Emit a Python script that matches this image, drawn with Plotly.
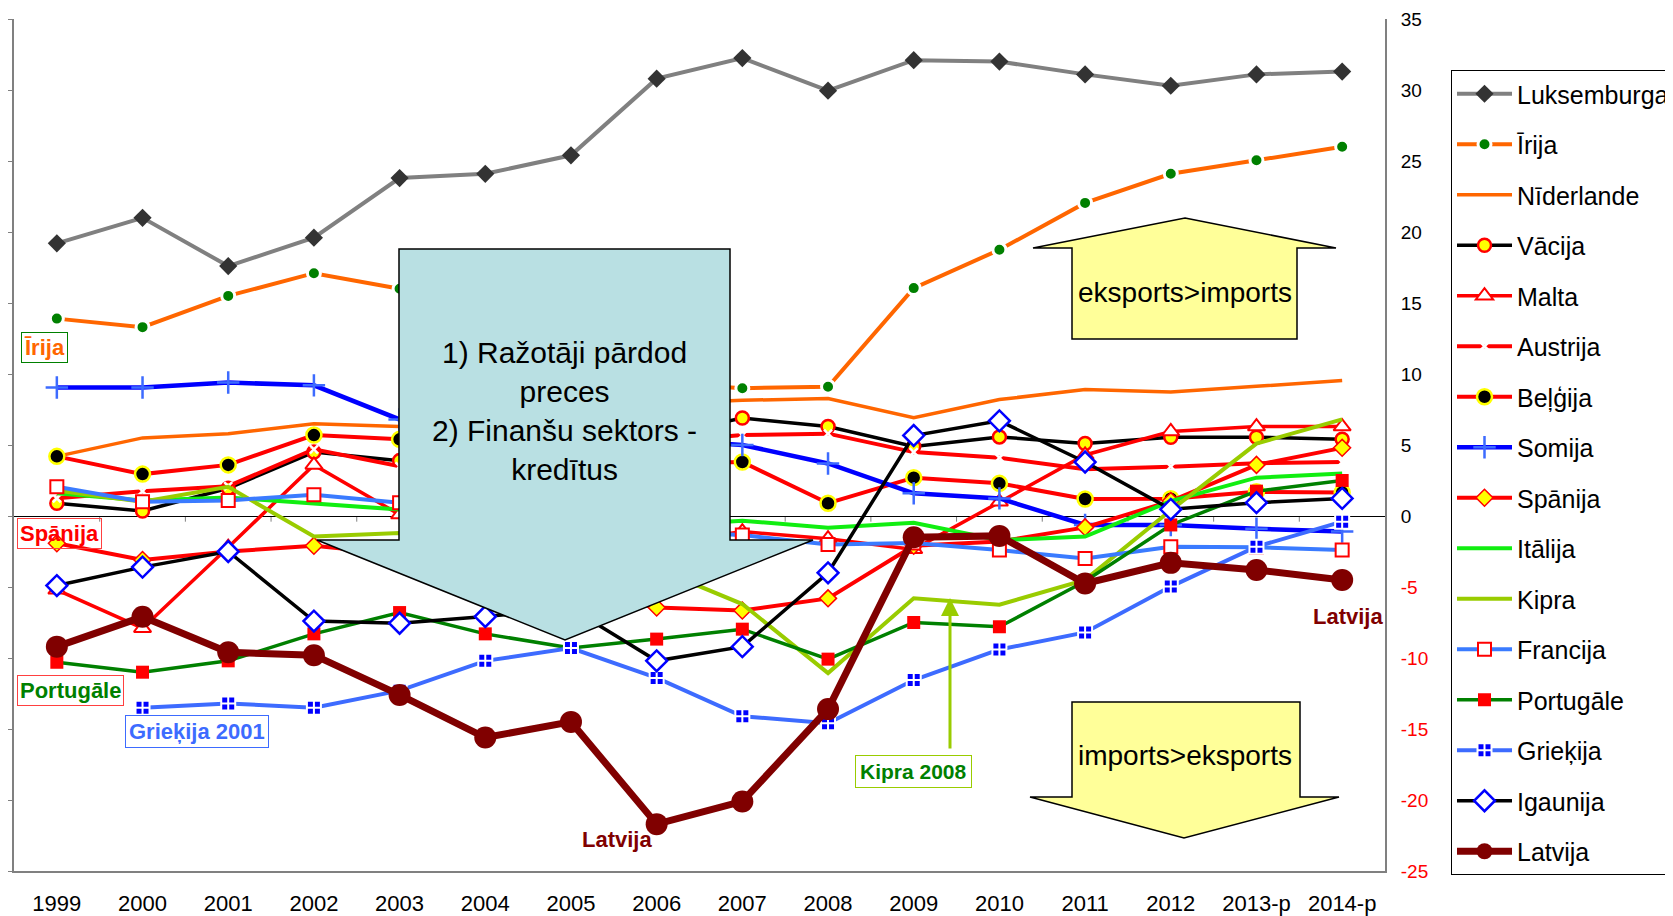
import plotly.graph_objects as go

years = ['1999', '2000', '2001', '2002', '2003', '2004', '2005', '2006', '2007',
         '2008', '2009', '2010', '2011', '2012', '2013-p', '2014-p']

luksemburga = [19.2, 21.0, 17.6, 19.6, 23.8, 24.1, 25.4, 30.8, 32.25, 29.95, 32.1, 32.0, 31.1, 30.3, 31.1, 31.3]
irija = [13.9, 13.3, 15.5, 17.1, 16.0, 14.3, 12.0, 9.4, 9.0, 9.1, 16.05, 18.75, 22.05, 24.1, 25.05, 26.0]
niderlande = [4.2, 5.5, 5.8, 6.5, 6.3, 7.0, 7.4, 7.9, 8.15, 8.27, 6.93, 8.2, 8.9, 8.74, 9.13, 9.55]
vacija = [0.9, 0.35, 1.95, 4.5, 3.9, 5.2, 5.1, 5.6, 6.9, 6.3, 4.9, 5.57, 5.1, 5.55, 5.55, 5.4]
malta = [-5.2, -7.9, -2.2, 3.6, 0.1, -2.5, -3.5, -2.0, -1.1, -1.6, -2.35, 1.0, 4.3, 5.95, 6.3, 6.3]
austrija = [1.25, 1.75, 2.1, 4.7, 3.5, 4.0, 4.5, 5.2, 5.7, 5.8, 4.5, 4.1, 3.3, 3.47, 3.72, 3.8]
belgija = [4.2, 2.95, 3.6, 5.7, 5.4, 4.8, 4.0, 3.7, 3.8, 0.9, 2.7, 2.3, 1.2, 1.22, 1.7, 1.66]
somija = [9.05, 9.05, 9.4, 9.2, 6.8, 6.0, 4.6, 5.4, 5.0, 3.7, 1.6, 1.24, -0.63, -0.63, -0.9, -1.1]
spanija = [-1.92, -3.1, -2.5, -2.1, -2.7, -3.8, -5.3, -6.45, -6.66, -5.8, -2.1, -1.8, -0.8, 1.05, 3.6, 4.8]
italija = [1.6, 1.1, 1.3, 0.9, 0.45, 0.4, -0.1, -0.7, -0.33, -0.82, -0.47, -1.7, -1.45, 1.05, 2.7, 3.0]
kipra = [1.8, 1.0, 2.05, -1.45, -1.2, -3.0, -3.2, -3.7, -6.2, -11.06, -5.8, -6.25, -4.5, 0.4, 5.1, 6.8]
francija = [2.06, 1.0, 1.1, 1.5, 0.94, 0.2, -0.7, -1.1, -1.34, -2.0, -1.9, -2.4, -3.0, -2.16, -2.2, -2.4]
portugale = [-10.3, -11.0, -10.2, -8.3, -6.8, -8.3, -9.3, -8.67, -7.97, -10.08, -7.5, -7.8, -4.6, -0.63, 1.75, 2.5]
griekija = [None, -13.5, -13.2, -13.5, -12.3, -10.2, -9.3, -11.4, -14.1, -14.6, -11.55, -9.4, -8.2, -4.97, -2.16, -0.4]
igaunija = [-4.9, -3.6, -2.5, -7.4, -7.55, -7.08, -6.5, -10.2, -9.2, -4.0, 5.67, 6.7, 3.8, 0.47, 0.94, 1.24]
latvija = [-9.2, -7.1, -9.6, -9.8, -12.6, -15.6, -14.5, -21.7, -20.1, -13.6, -1.5, -1.4, -4.75, -3.3, -3.8, -4.5]

y_ticks = [-25, -20, -15, -10, -5, 0, 5, 10, 15, 20, 25, 30, 35]

FONT = "Arial, Liberation Sans, sans-serif"
xi = list(range(len(years)))

# page body margin of the html page (default browser margin)
PAGE_OFF = 8
FIG_W, FIG_H = 1673 - PAGE_OFF, 916 - PAGE_OFF
# plot area in page pixels
X0, W, Y0, H = 14, 1371, 19, 852
N = len(years)
YMIN, YMAX = -25, 35


def dx(px):
    return -0.5 + (px - X0) / W * N


def dy(py):
    return YMAX - (py - Y0) / H * (YMAX - YMIN)


series = [
    ("Luksemburga", luksemburga, dict(color="#808080", width=4),
     dict(symbol="diamond", size=14, color="#333333")),
    ("Īrija", irija, dict(color="#FF6600", width=4),
     dict(symbol="circle", size=13, color="#008000", line=dict(color="white", width=3))),
    ("Nīderlande", niderlande, dict(color="#FF6600", width=3.5), None),
    ("Vācija", vacija, dict(color="black", width=3.5),
     dict(symbol="circle", size=13, color="#FFFF00", line=dict(color="#FF0000", width=2.5))),
    ("Malta", malta, dict(color="#FF0000", width=3.5),
     dict(symbol="triangle-up", size=15, color="white", line=dict(color="#FF0000", width=2))),
    ("Austrija", austrija, dict(color="#FF0000", width=4),
     dict(symbol="x-thin", size=8, color="white", line=dict(color="white", width=2.5))),
    ("Beļģija", belgija, dict(color="#FF0000", width=4),
     dict(symbol="circle", size=15, color="black", line=dict(color="#FFFF00", width=2.5))),
    ("Somija", somija, dict(color="#0000FF", width=4.5),
     dict(symbol="cross-thin", size=16, color="#3D6BFF", line=dict(color="#3D6BFF", width=2.5))),
    ("Spānija", spanija, dict(color="#FF0000", width=4),
     dict(symbol="diamond", size=13, color="#FFFF00", line=dict(color="#FF0000", width=1.5))),
    ("Itālija", italija, dict(color="#11EE11", width=4), None),
    ("Kipra", kipra, dict(color="#99CC00", width=4), None),
    ("Francija", francija, dict(color="#3A7BFF", width=4),
     dict(symbol="square", size=13, color="white", line=dict(color="#FF0000", width=2))),
    ("Portugāle", portugale, dict(color="#008000", width=3.5),
     dict(symbol="square", size=13, color="#FF0000")),
    ("Grieķija", griekija, dict(color="#3D6BFF", width=4),
     dict(symbol="square-cross", size=14, color="#0000FF", line=dict(color="white", width=2))),
    ("Igaunija", igaunija, dict(color="black", width=3.5),
     dict(symbol="diamond", size=16, color="white", line=dict(color="#0000FF", width=2.5))),
    ("Latvija", latvija, dict(color="#800000", width=7),
     dict(symbol="circle", size=22, color="#800000")),
]

fig = go.Figure()
for i, (name, vals, line, marker) in enumerate(series):
    kw = dict(x=xi, y=vals, name=name, line=line, legendgroup=f"g{i}",
              mode="lines+markers" if marker else "lines")
    if marker:
        kw["marker"] = marker
    fig.add_trace(go.Scatter(**kw))

# dummy trace for left axis
fig.add_trace(go.Scatter(x=[None], y=[None], yaxis="y2", showlegend=False, hoverinfo="skip"))

tick_text = []
for v in y_ticks:
    if v < 0:
        tick_text.append(f'<span style="color:#FF0000">{v}</span>')
    else:
        tick_text.append(str(v))

shapes = []
# small ticks on zero line between categories
for k in range(N - 1):
    shapes.append(dict(type="line", xref="x", yref="y", x0=k + 0.5, x1=k + 0.5,
                       y0=0, y1=-0.4, line=dict(color="#808080", width=1), layer="below"))


def path(points):
    return "M " + " L ".join(f"{dx(a):.4f},{dy(b):.4f}" for a, b in points) + " Z"


# callout (light blue)
shapes.append(dict(type="path", xref="x", yref="y", layer="above",
                   path=path([(399, 249), (730, 249), (730, 540), (813, 540), (565, 640),
                              (317, 540), (399, 540)]),
                   fillcolor="#B9E0E3", line=dict(color="black", width=1.5)))
# up arrow (yellow)
shapes.append(dict(type="path", xref="x", yref="y", layer="above",
                   path=path([(1185, 218), (1336, 248), (1297, 248), (1297, 339), (1072, 339),
                              (1072, 248), (1033, 248)]),
                   fillcolor="#FFFF99", line=dict(color="black", width=1.5)))
# down arrow (yellow)
shapes.append(dict(type="path", xref="x", yref="y", layer="above",
                   path=path([(1072, 702), (1300, 702), (1300, 797), (1339, 797), (1184, 838),
                              (1030, 797), (1072, 797)]),
                   fillcolor="#FFFF99", line=dict(color="black", width=1.5)))

annotations = [
    dict(x=dx(564), y=dy(411), xref="x", yref="y", showarrow=False,
         text="1) Ražotāji pārdod<br>preces<br>2) Finanšu sektors -<br>kredītus",
         font=dict(family=FONT, size=30, color="black"), align="center"),
    dict(x=dx(1185), y=dy(292), xref="x", yref="y", showarrow=False,
         text="eksports&gt;imports", font=dict(family=FONT, size=28, color="black")),
    dict(x=dx(1185), y=dy(755), xref="x", yref="y", showarrow=False,
         text="imports&gt;eksports", font=dict(family=FONT, size=28, color="black")),
    dict(x=dx(44), y=dy(347), xref="x", yref="y", showarrow=False, text="<b>Īrija</b>",
         font=dict(family=FONT, size=22, color="#FF6600"), bordercolor="#008000",
         borderwidth=1, borderpad=2, bgcolor="white"),
    dict(x=dx(59), y=dy(533), xref="x", yref="y", showarrow=False, text="<b>Spānija</b>",
         font=dict(family=FONT, size=22, color="#FF0000"), bordercolor="#FF4040",
         borderwidth=1, borderpad=2),
    dict(x=dx(70), y=dy(690), xref="x", yref="y", showarrow=False, text="<b>Portugāle</b>",
         font=dict(family=FONT, size=22, color="#008000"), bordercolor="#FF4040",
         borderwidth=1, borderpad=2, bgcolor="white"),
    dict(x=dx(197), y=dy(731), xref="x", yref="y", showarrow=False, text="<b>Grieķija 2001</b>",
         font=dict(family=FONT, size=22, color="#3D6BFF"), bordercolor="#3D6BFF",
         borderwidth=1, borderpad=3, bgcolor="white"),
    dict(x=dx(913), y=dy(771), xref="x", yref="y", showarrow=False, text="<b>Kipra 2008</b>",
         font=dict(family=FONT, size=21, color="#008000"), bordercolor="#99CC00",
         borderwidth=1, borderpad=4, bgcolor="white"),
    dict(x=dx(950), y=dy(598), xref="x", yref="y", ax=dx(950), ay=dy(750), axref="x", ayref="y",
         showarrow=True, text="", arrowhead=2, arrowsize=1.2, arrowwidth=3, arrowcolor="#99CC00"),
    dict(x=dx(617), y=dy(839), xref="x", yref="y", showarrow=False, text="<b>Latvija</b>",
         font=dict(family=FONT, size=22, color="#800000")),
    dict(x=dx(1348), y=dy(616), xref="x", yref="y", showarrow=False, text="<b>Latvija</b>",
         font=dict(family=FONT, size=22, color="#800000"), bgcolor="white"),
]

ml = X0 - PAGE_OFF
mt = Y0 - PAGE_OFF
fig.update_layout(
    width=FIG_W, height=FIG_H,
    margin=dict(l=ml, r=FIG_W - ml - W, t=mt, b=FIG_H - mt - H, autoexpand=False),
    paper_bgcolor="white", plot_bgcolor="white",
    font=dict(family=FONT, color="black"),
    showlegend=True,
    legend=dict(x=(1451 - X0) / W, y=(Y0 + H - 70) / H, xanchor="left", yanchor="top",
                bordercolor="black", borderwidth=1, bgcolor="white",
                font=dict(family=FONT, size=25, color="black"),
                tracegroupgap=15, itemwidth=55, traceorder="grouped"),
    xaxis=dict(range=[-0.5, N - 0.5], tickvals=xi, ticktext=years, showgrid=False,
               zeroline=False, showline=True, linecolor="#808080", linewidth=2,
               ticks="outside", ticklen=12, tickcolor="rgba(0,0,0,0)",
               tickfont=dict(family=FONT, size=22, color="black"), fixedrange=True),
    yaxis=dict(range=[YMIN, YMAX], side="right", tickvals=y_ticks, ticktext=tick_text,
               showgrid=False, zeroline=True, zerolinecolor="black", zerolinewidth=1,
               showline=True, linecolor="#808080", linewidth=2, ticks="outside",
               ticklen=10, tickcolor="rgba(0,0,0,0)", automargin=False,
               tickfont=dict(family=FONT, size=19, color="black")),
    yaxis2=dict(range=[YMIN, YMAX], overlaying="y", side="left", tickvals=y_ticks,
                showticklabels=False, showgrid=False, zeroline=False, showline=True,
                linecolor="#808080", linewidth=2, ticks="outside", ticklen=7,
                tickcolor="#808080", automargin=False),
    shapes=shapes,
    annotations=annotations,
)

fig.write_html("out.html")
